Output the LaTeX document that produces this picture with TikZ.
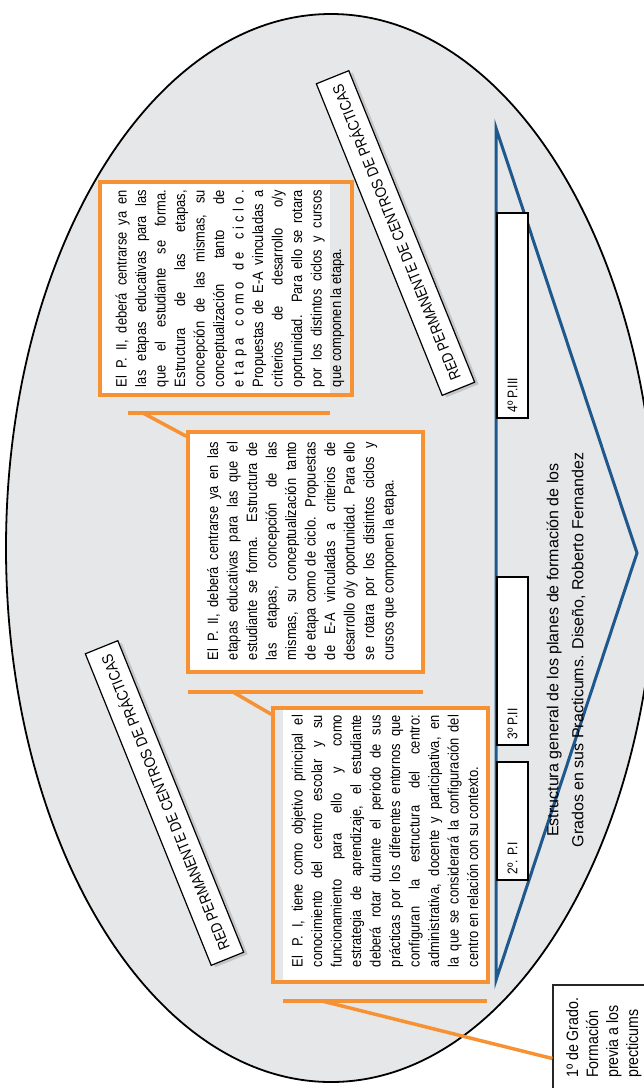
\documentclass[tikz,border=0pt]{standalone}
\usepackage{fontspec}
\setmainfont{Liberation Sans}[FakeStretch=0.86]
\newfontfamily\captionface{Liberation Sans}
\usetikzlibrary{calc}
\hbadness=10000
\definecolor{ovalgray}{RGB}{230,231,232}
\definecolor{prorange}{RGB}{246,146,52}
\definecolor{axisblue}{RGB}{30,88,140}
\definecolor{shadowgray}{RGB}{196,197,199}
\begin{document}
\begin{tikzpicture}[x=1pt,y=-1pt,
  oval/.style={draw=black, line width=1.8pt, fill=ovalgray},
  prframe/.style={draw=prorange, line width=3.5pt, inner sep=0pt},
  shelf/.style={draw=prorange, line width=3.5pt},
  bodytext/.style={rotate=90, inner sep=0pt, align=justify, font=\fontsize{15}{19.5}\selectfont},
  redlabel/.style={rotate=112, draw=black, line width=1.2pt, fill=white, minimum width=336pt, minimum height=35pt, inner sep=0pt, font=\fontsize{15.5}{18}\selectfont},
  redshadow/.style={rotate=112, fill=shadowgray, minimum width=336pt, minimum height=35pt, inner sep=0pt},
  stagebox/.style={draw=black, line width=1.3pt, fill=white, minimum width=31pt, inner sep=0pt},
  stagetext/.style={rotate=90, anchor=west, inner sep=0pt, font=\fontsize{14}{16}\selectfont},
  axis/.style={draw=axisblue, line width=3pt, line join=miter}
]
\useasboundingbox (0,0) rectangle (644,1088);

% the oval field
\draw[oval] (331,548) ellipse [x radius=325, y radius=534];

% network labels with their shadows
\node[redshadow] at (168.5,805) {};
\node[redlabel] (redL) at (164.5,803) {RED PERMANENTE DE CENTROS DE PRÁCTICAS};
\node[redshadow] at (399.5,235) {};
\node[redlabel] (redR) at (395.5,233) {RED PERMANENTE DE CENTROS DE PRÁCTICAS};

% white paper behind each text block
\fill[white] (283,708) rectangle (488,982);
\fill[white] (188,432) rectangle (423,672);
\fill[white] (100,182) rectangle (330,395);

% Practicum I
\node[bodytext, text width=252pt] (tone) at (385,841) {%
El P. I, tiene como objetivo principal el\linebreak
conocimiento del centro escolar y su\linebreak
funcionamiento para ello y como\linebreak
estrategia de aprendizaje, el estudiante\linebreak
deberá rotar durante el periodo de sus\linebreak
prácticas por los diferentes entornos que\linebreak
configuran la estructura del centro:\linebreak
administrativa, docente y participativa, en\linebreak
la que se considerará la configuración del\linebreak
centro en relación con su contexto.};

% Practicum II
\node[bodytext, text width=218pt] (ttwo) at (302,551) {%
El P. II, deberá centrarse ya en las\linebreak
etapas educativas para las que el\linebreak
estudiante se forma. Estructura de\linebreak
las etapas, concepción de las\linebreak
mismas, su conceptualización tanto\linebreak
de etapa como de ciclo. Propuestas\linebreak
de E-A vinculadas a criterios de\linebreak
desarrollo o/y oportunidad. Para ello\linebreak
se rotara por los distintos ciclos y\linebreak
cursos que componen la etapa.};

% Practicum III
\node[bodytext, text width=197pt] (tthree) at (230,288.5) {%
El P. II, deberá centrarse ya en\linebreak
las etapas educativas para las\linebreak
que el estudiante se forma.\linebreak
Estructura de las etapas,\linebreak
concepción de las mismas, su\linebreak
conceptualización tanto de\linebreak
e\hfill t\hfill a\hfill p\hfill a\hfill\hfill\hfill c\hfill o\hfill m\hfill o\hfill\hfill\hfill d\hfill e\hfill\hfill\hfill c\hfill i\hfill c\hfill l\hfill o\hfill .\linebreak
Propuestas de E-A vinculadas a\linebreak
criterios de desarrollo o/y\linebreak
oportunidad. Para ello se rotara\linebreak
por los distintos ciclos y cursos\linebreak
que componen la etapa.};

% orange frames
\node[prframe, minimum width=215pt, minimum height=274pt] (pone) at (380.5,845) {};
\node[prframe, minimum width=235pt, minimum height=240pt] (ptwo) at (305.5,552) {};
\node[prframe, minimum width=252pt, minimum height=213pt] (pthree) at (226,288.5) {};

% shelves with their callout strokes
\coordinate (shA1) at (128,413); \coordinate (shA2) at (330,413); \coordinate (kneeA) at (143,413);
\coordinate (shB1) at (188,692); \coordinate (shB2) at (423,692); \coordinate (kneeB) at (233,692);
\coordinate (shC1) at (283,1001); \coordinate (shC2) at (487,1001); \coordinate (kneeC) at (322,1001);
\draw[shelf] (shA1) -- (shA2);
\draw[shelf] (kneeA) -- ($(ptwo.north west)+(0,6)$);
\draw[shelf] (shB1) -- (shB2);
\draw[shelf] (kneeB) -- ($(pone.north west)+(0,8)$);
\draw[shelf] (shC1) -- (shC2);

% first-year box
\node[draw=black!85, line width=1.3pt, fill=white, minimum width=107pt, minimum height=115pt, inner sep=0pt] (grado) at (606.5,1042.5) {};
\node[rotate=90, anchor=north west, inner sep=0pt, align=left, font=\fontsize{16.5}{20}\selectfont] (gradotext) at (566,1078) {1º de Grado.\\Formación\\previa a los\\precticums};
\draw[shelf] (kneeC) -- ($(grado.west)+(0,16)$);

% blue course axis
\coordinate (tTop) at (496,128);
\coordinate (tTip) at (637,553);
\coordinate (tBot) at (496,980);
\draw[axis] (tTop) -- (tTip) -- (tBot) -- cycle;

% course boxes along the axis
\node[stagebox, minimum height=205pt] (pIII) at (512.5,315.5) {};
\node[stagetext] at ($(pIII.south)+(0,-6)$) {4º P.III};
\node[stagebox, minimum height=168pt] (pII) at (512.5,661) {};
\node[stagetext] at ($(pII.south)+(0,-6)$) {3º P.II};
\node[stagebox, minimum height=118pt] (pI) at (512.5,821) {};
\node[stagetext] at ($(pI.south)+(0,-6)$) {2º. P.I};

% caption
\node[rotate=90, inner sep=0pt, align=center, font=\captionface\fontsize{16}{25}\selectfont] (caption) at (566,650)
  {Estructura general de los planes de formación de los\\Grados en sus Practicums. Diseño, Roberto Fernandez};
\end{tikzpicture}
\end{document}
